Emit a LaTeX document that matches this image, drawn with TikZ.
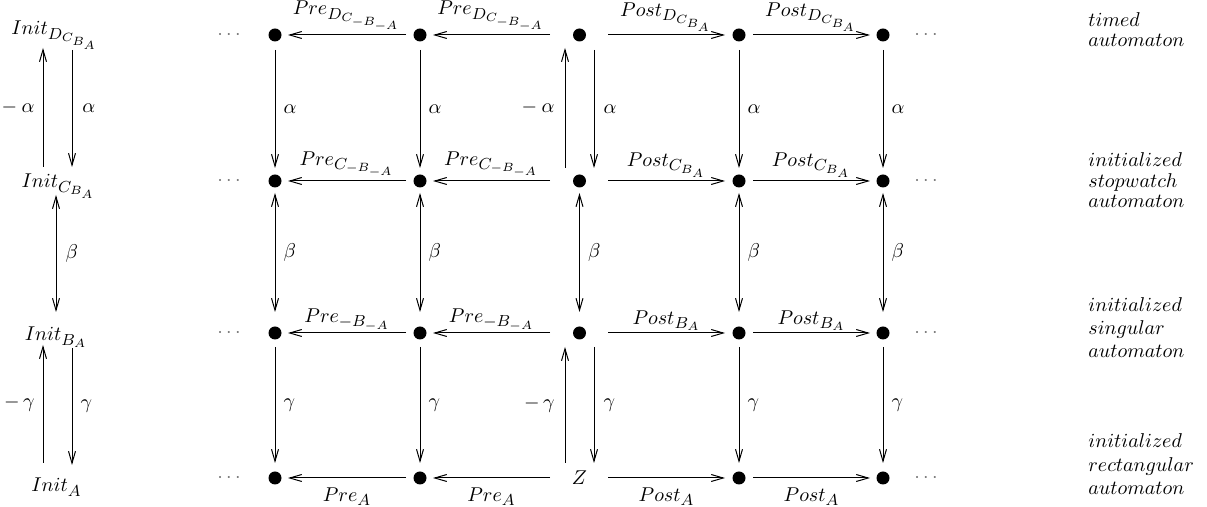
\documentclass[tikz,border=0pt]{standalone}
\usetikzlibrary{arrows.meta,calc}
\DeclareMathSizes{10}{10}{8}{6}
\begin{document}
\begin{tikzpicture}[x=0.5pt,y=-0.5pt,
  gdot/.style={circle,fill=black,minimum size=6.5pt,inner sep=0pt},
  arr/.style={line width=0.5pt,-{Straight Barb[length=6pt,width=3.5pt]}},
  darr/.style={line width=0.5pt,{Straight Barb[length=6pt,width=3.5pt]}-{Straight Barb[length=6pt,width=3.5pt]}},
  lbl/.style={inner sep=0pt},
  ell/.style={anchor=base,inner sep=0pt,text=black!55},
  txt/.style={anchor=base west,inner sep=0pt}]
\useasboundingbox (0,0) rectangle (1207,507);

% grid nodes
\foreach \r/\y in {1/35,2/181,3/333}{
  \node[gdot] (n\r1) at (275,\y) {};
  \node[gdot] (n\r2) at (420,\y) {};
  \node[gdot] (n\r3) at (579.5,\y) {};
  \node[gdot] (n\r4) at (739,\y) {};
  \node[gdot] (n\r5) at (883,\y) {};
}
\node[gdot] (n41) at (275,478) {};
\node[gdot] (n42) at (420,478) {};
\node (n43) at (579.5,478) {$Z$};
\node[gdot] (n44) at (739,478) {};
\node[gdot] (n45) at (883,478) {};

% dots
\foreach \r/\y in {1/35,2/181,3/333,4/478}{
  \node[ell] (l\r) at (229,\y+5) {$\cdots$};
  \node[ell] (r\r) at (926,\y+5) {$\cdots$};
}

% horizontal arrows
\foreach \r/\pl/\po/\side/\d in {1/{D_{C_{-B_{-A}}}}/{D_{C_{B_A}}}/above/1.5pt,
                                  2/{C_{-B_{-A}}}/{C_{B_A}}/above/1.5pt,
                                  3/{-B_{-A}}/{B_A}/above/0.8pt,
                                  4/A/A/below/4.5pt}{
  \draw[arr] ($(n\r2)+(-14,0)$) -- node[lbl,\side=\d]{$Pre_{\pl}$} ($(n\r1)+(13,0)$);
  \draw[arr] ($(n\r3)+(-29.5,0)$) -- node[lbl,\side=\d]{$Pre_{\pl}$} ($(n\r2)+(13,0)$);
  \draw[arr] ($(n\r3)+(28.5,0)$) -- node[lbl,\side=\d]{$Post_{\po}$} ($(n\r4)+(-14,0)$);
  \draw[arr] ($(n\r4)+(14,0)$) -- node[lbl,\side=\d]{$Post_{\po}$} ($(n\r5)+(-13,0)$);
}

% vertical arrows
\foreach \c in {1,2,4,5}{
  \draw[arr] ($(n1\c)+(0,15)$) -- node[lbl,right=4pt]{$\alpha$} ($(n2\c)+(0,-13)$);
  \draw[darr] ($(n2\c)+(0,12)$) -- node[lbl,right=4pt]{$\beta$} ($(n3\c)+(0,-21)$);
  \draw[arr] ($(n3\c)+(0,14)$) -- node[lbl,right=4pt]{$\gamma$} ($(n4\c)+(0,-15)$);
}
\draw[arr] ($(n23)+(-14.5,-13)$) -- node[lbl,left=5pt]{$-\:\alpha$} ($(n13)+(-14.5,13)$);
\draw[arr] ($(n13)+(14.5,15)$) -- node[lbl,right=4.5pt]{$\alpha$} ($(n23)+(14.5,-13)$);
\draw[darr] ($(n23)+(0,12)$) -- node[lbl,right=4pt]{$\beta$} ($(n33)+(0,-21)$);
\draw[arr] ($(n43)+(-14.5,-15)$) -- node[lbl,left=5pt]{$-\,\gamma$} ($(n33)+(-14.5,14)$);
\draw[arr] ($(n33)+(14.5,14)$) -- node[lbl,right=4.5pt]{$\gamma$} ($(n43)+(14.5,-15)$);

% left column
\node[anchor=base] (i1) at (55,35) {$Init_{D_{C_{B_A}}}$};
\node[anchor=base] (i2) at (58.5,188) {$Init_{C_{B_A}}$};
\node[anchor=base] (i3) at (56,341) {$Init_{B_A}$};
\node[anchor=base] (i4) at (56.5,492) {$Init_A$};
\draw[arr] ($(i2.base)+(-15.5,-21)$) -- node[lbl,left=4pt]{$-\:\alpha$} ($(i1.base)+(-12,13)$);
\draw[arr] ($(i1.base)+(17,15)$) -- node[lbl,right=5pt]{$\alpha$} ($(i2.base)+(13.5,-21)$);
\draw[darr] ($(i2.base)+(-2.5,7)$) -- node[lbl,right=4.5pt]{$\beta$} ($(i3.base)+(0,-29)$);
\draw[arr] ($(i4.base)+(-13.5,-29)$) -- node[lbl,left=4pt]{$-\,\gamma$} ($(i3.base)+(-13,4)$);
\draw[arr] ($(i3.base)+(16,7)$) -- node[lbl,right=4pt]{$\gamma$} ($(i4.base)+(15.5,-27)$);

% right texts
\node[txt] (ta1) at (1088,27) {$timed$};
\node[txt] (ta2) at (1088,47) {$automaton$};
\node[txt] (tb1) at (1088,167) {$initialized$};
\node[txt] (tb2) at (1088,188) {$stopwatch$};
\node[txt] (tb3) at (1088,208) {$automaton$};
\node[txt] (tc1) at (1088,312) {$initialized$};
\node[txt] (tc2) at (1088,335) {$singular$};
\node[txt] (tc3) at (1088,358) {$automaton$};
\node[txt] (td1) at (1088,448) {$initialized$};
\node[txt] (td2) at (1088,472) {$rectangular$};
\node[txt] (td3) at (1088,495) {$automaton$};
\end{tikzpicture}
\end{document}
